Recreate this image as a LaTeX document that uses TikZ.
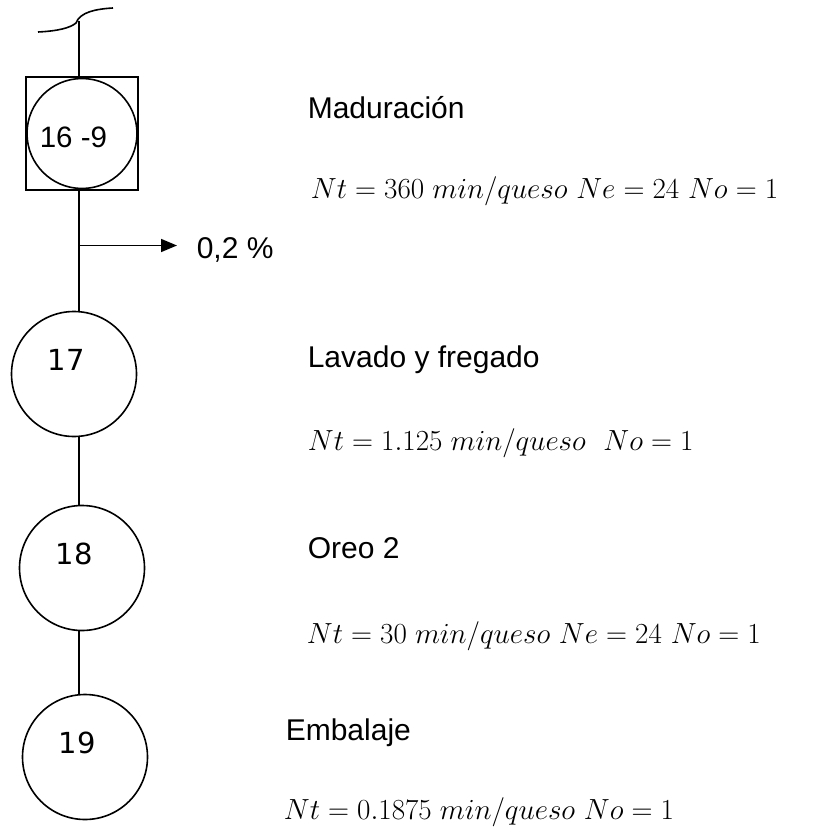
\documentclass[tikz,border=0pt]{standalone}
\usepackage{fontspec}
\usepackage{amsmath}
\usetikzlibrary{arrows.meta}
\newfontfamily\arialfont{Liberation Sans}
\newfontfamily\numfont{DejaVu Sans}

\begin{document}
\begin{tikzpicture}[x=1pt, y=-1pt, line width=1.6pt, >={Triangle[length=16pt,width=13pt]}]
\tikzstyle{op_circ}=[circle, draw=black, line width=1.6pt, minimum size=125pt, inner sep=0pt]
\tikzstyle{insp_box}=[rectangle, draw=black, line width=1.6pt, minimum width=112pt, minimum height=113pt, inner sep=0pt]
\tikzstyle{num_txt}=[anchor=base west, inner sep=0pt, font=\numfont\fontsize{29}{32}\selectfont]
\tikzstyle{step_txt}=[anchor=base west, inner sep=0pt, font=\arialfont\fontsize{30}{34}\selectfont]
\tikzstyle{eq_txt}=[anchor=base west, inner sep=0pt, font=\fontsize{24.88}{28}\selectfont, scale=1.17, transform shape]
%
\useasboundingbox (0,0) rectangle (820,832);

% break mark and spine
\coordinate (cutL) at (38,32);
\coordinate (cutM) at (79,21);
\coordinate (cutR) at (113,8);
\draw (cutL) .. controls (58,31) and (70,28) .. (76,23)
	.. controls (80,12) and (96,9) .. (cutR);
\coordinate (spine) at (79,0);

% 16 - 9
\node [insp_box] (b169) at (82,133.5) {};
\node [op_circ, minimum size=110pt] (c169) at (82,133.5) {};
\node [step_txt, font=\arialfont\fontsize{29.5}{33}\selectfont] (n169) at (39,147) {16 -9};
\draw (cutM) -- (b169.north -| spine);

% loss
\coordinate (lossS) at (79,245.5);
\coordinate (lossE) at (177,245.5);
\draw [->] (lossS) -- (lossE);
\node [step_txt] (loss) at (196,258) {0,2 \%};

% 17 - 19
\node [op_circ] (c17) at (74,374) {};
\node [op_circ] (c18) at (82,568) {};
\node [op_circ] (c19) at (85,757) {};
\node [num_txt] (n17) at (47,370) {17};
\node [num_txt] (n18) at (55,564) {18};
\node [num_txt] (n19) at (58,753) {19};

\draw (b169.south -| spine) -- (c17.north -| spine);
\draw (c17.south -| spine) -- (c18.north -| spine);
\draw (c18.south -| spine) -- (c19.north -| spine);

% texts
\node [step_txt] (t169) at (307,118) {Maduración};
\node [eq_txt] (e169) at (310,198) {$Nt = 360\;min/queso\ Ne = 24\ No = 1$};
\node [step_txt] (t17) at (307,367) {Lavado y fregado};
\node [eq_txt] (e17) at (307,450) {$Nt = 1.125\;min/queso\ \ No = 1$};
\node [step_txt] (t18) at (307,558) {Oreo 2};
\node [eq_txt] (e18) at (306,643) {$Nt = 30\;min/queso\ Ne = 24\ No = 1$};
\node [step_txt] (t19) at (285,740) {Embalaje};
\node [eq_txt] (e19) at (283,819) {$Nt = 0.1875\;min/queso\ No = 1$};
%
\end{tikzpicture}
\end{document}
